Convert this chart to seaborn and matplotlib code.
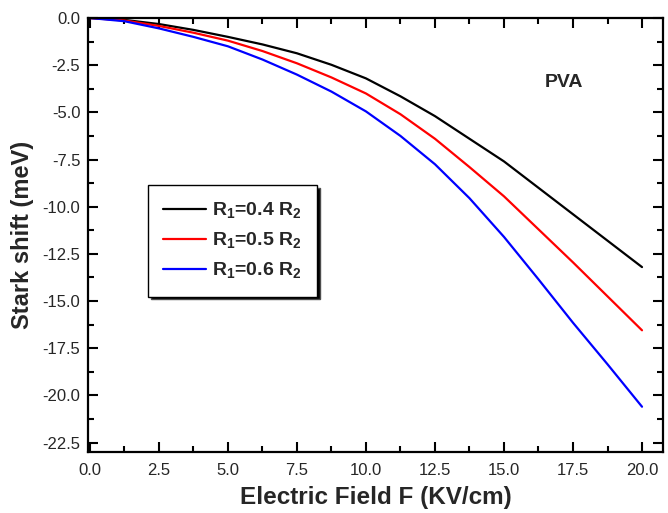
import numpy as np
import pandas as pd
import matplotlib
matplotlib.use("Agg")
import matplotlib.pyplot as plt
import seaborn as sns

# Data
field = [0, 1.25, 2.5, 3.75, 5, 6.25, 7.5, 8.75, 10, 11.25, 12.5, 13.75, 15, 16.25, 17.5, 18.75, 20]
shift_04 = [0, -0.1, -0.32, -0.63, -1.0, -1.4, -1.87, -2.48, -3.2, -4.15, -5.2, -6.4, -7.6, -9.0, -10.4, -11.8, -13.2]
shift_05 = [0, -0.13, -0.42, -0.78, -1.2, -1.75, -2.4, -3.15, -4.0, -5.1, -6.4, -7.9, -9.45, -11.2, -12.95, -14.75, -16.55]
shift_06 = [0, -0.17, -0.55, -1.0, -1.5, -2.2, -3.0, -3.9, -4.95, -6.25, -7.75, -9.55, -11.6, -13.85, -16.15, -18.35, -20.6]
labels = [r"R$_\mathbf{1}$=0.4 R$_\mathbf{2}$",
          r"R$_\mathbf{1}$=0.5 R$_\mathbf{2}$",
          r"R$_\mathbf{1}$=0.6 R$_\mathbf{2}$"]
colors = ["#000000", "#ff0000", "#0000ff"]
xticks = [0, 2.5, 5, 7.5, 10, 12.5, 15, 17.5, 20]
yticks = [0, -2.5, -5, -7.5, -10, -12.5, -15, -17.5, -20, -22.5]

df = pd.concat([
    pd.DataFrame({"F": field, "shift": s, "series": lab})
    for s, lab in zip([shift_04, shift_05, shift_06], labels)
], ignore_index=True)

sns.set_style("ticks")
plt.rcParams["font.family"] = ["Liberation Sans", "DejaVu Sans"]
plt.rcParams["mathtext.fontset"] = "custom"
plt.rcParams["mathtext.rm"] = "Liberation Sans"
plt.rcParams["mathtext.bf"] = "Liberation Sans:bold"

fig = plt.figure(figsize=(6.68, 5.13), dpi=100)
ax = fig.add_axes([0.1317, 0.1189, 0.8608, 0.846])

sns.lineplot(data=df, x="F", y="shift", hue="series", palette=colors,
             linewidth=1.6, ax=ax, legend=True)

ax.set_xlim(-0.07, 20.76)
ax.set_ylim(-23.0, 0.0)
ax.set_xticks(xticks)
ax.set_yticks(yticks)
ax.set_xticklabels([f"{v:.1f}" for v in xticks])
ax.set_yticklabels([f"{v:.1f}" for v in yticks])
ax.set_xticks([1.25 + 2.5 * i for i in range(8)], minor=True)
ax.set_yticks([-1.25 - 2.5 * i for i in range(9)], minor=True)

for s in ax.spines.values():
    s.set_visible(True)
    s.set_linewidth(1.6)
    s.set_color("black")

ax.tick_params(which="both", direction="in", top=True, right=True, width=1.5, color="black")
ax.tick_params(which="major", length=7)
ax.tick_params(which="minor", length=4)
ax.tick_params(axis="x", which="major", pad=8, labelsize=12)
ax.tick_params(axis="y", which="major", pad=5.5, labelsize=12)

ax.set_xlabel("Electric Field F (KV/cm)", fontsize=17.5, fontweight="bold", labelpad=6)
ax.set_ylabel("Stark shift (meV)", fontsize=17, fontweight="bold", labelpad=6)

ax.text(17.17, -3.4, "PVA", fontsize=14, fontweight="bold", ha="center", va="center")

leg = ax.legend(loc="upper left", bbox_to_anchor=(0.104, 0.615), borderaxespad=0,
                fancybox=False, shadow={"facecolor": "black", "alpha": 1.0},
                edgecolor="black", framealpha=1, handlelength=2.2,
                labelspacing=0.5, borderpad=0.8, handletextpad=0.3,
                prop={"weight": "bold", "size": 14})
leg.get_frame().set_linewidth(1.0)
for line in leg.get_lines():
    line.set_linewidth(1.6)

fig.savefig("out.png", dpi=100)
